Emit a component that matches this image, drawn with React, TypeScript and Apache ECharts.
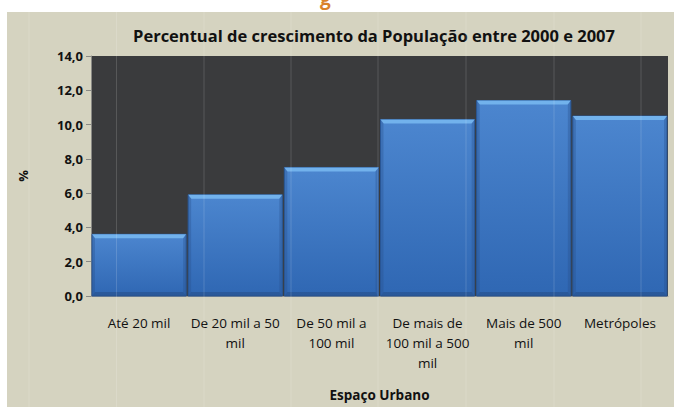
import React, { useEffect, useRef } from "react";
import * as echarts from "echarts";

const categories = [
  "Até 20 mil",
  "De 20 mil a 50\nmil",
  "De 50 mil a\n100 mil",
  "De mais de\n100 mil a 500\nmil",
  "Mais de 500\nmil",
  "Metrópoles",
];
const values = [3.6, 5.9, 7.5, 10.3, 11.4, 10.5];
const yTicks = { min: 0, max: 14, interval: 2 };
const titleText = "Percentual de crescimento da População entre 2000 e 2007";
const xName = "Espaço Urbano";
const yName = "%";

export default function App() {
  const ref = useRef<HTMLDivElement>(null);
  useEffect(() => {
    if (!ref.current) return;
    const chart = echarts.init(ref.current, null, { renderer: "svg" });
    const font = "'Open Sans', 'Noto Sans', sans-serif";
    const artifactXs = [29, 116.5, 204, 291, 378, 466, 554, 641];
    const option: any = {
      animation: false,
      backgroundColor: "#ffffff",
      textStyle: { fontFamily: font },
      title: {
        text: titleText,
        left: 369,
        textAlign: "center",
        top: 22,
        textStyle: { fontFamily: font, fontSize: 16.5, fontWeight: "bold", color: "#111" },
      },
      graphic: [
        {
          type: "rect",
          z: -10,
          silent: true,
          shape: { x: 7, y: 12, width: 667, height: 395 },
          style: { fill: "#d5d3c0" },
        },
        {
          type: "text",
          z: -5,
          left: 320,
          top: -12,
          style: { text: "g", fill: "#d9822b", font: "bold 19px 'Open Sans', sans-serif" },
        },
        ...artifactXs.map((x) => ({
          type: "line",
          z: 100,
          silent: true,
          shape: { x1: x, y1: 12, x2: x, y2: 407 },
          style: { stroke: "rgba(255,255,255,0.15)", lineWidth: 1 },
        })),
      ],
      grid: {
        left: 91,
        right: 6,
        top: 56,
        bottom: 110,
        show: true,
        backgroundColor: "#3a3b3d",
        borderWidth: 0,
      },
      xAxis: {
        type: "category",
        data: categories,
        name: xName,
        nameLocation: "middle",
        nameGap: 92,
        nameTextStyle: { fontFamily: font, fontSize: 13.5, fontWeight: "bold", color: "#111" },
        axisLine: { show: true, lineStyle: { color: "#9a9a95", width: 1 } },
        axisTick: { show: false },
        axisLabel: {
          interval: 0,
          margin: 17,
          fontFamily: font,
          fontSize: 13.5,
          color: "#111",
          lineHeight: 20,
          verticalAlign: "top",
        },
        splitLine: { show: false },
      },
      yAxis: {
        type: "value",
        min: yTicks.min,
        max: yTicks.max,
        interval: yTicks.interval,
        name: yName,
        nameLocation: "middle",
        nameGap: 62,
        nameRotate: 90,
        nameTextStyle: { fontFamily: font, fontSize: 13, fontWeight: "bold", color: "#111" },
        axisLine: { show: true, lineStyle: { color: "#8a8a86", width: 1 } },
        axisTick: { show: true, length: 5, lineStyle: { color: "#8a8a86" } },
        axisLabel: {
          margin: 8,
          fontFamily: font,
          fontSize: 13,
          fontWeight: "bold",
          color: "#111",
          formatter: (v: number) => v.toFixed(1).replace(".", ","),
        },
        splitLine: { show: false },
      },
      series: [
        {
          type: "custom",
          data: values.map((v, i) => [i, v]),
          encode: { x: 0, y: 1 },
          renderItem: (params: any, api: any) => {
            const idx = api.value(0);
            const val = api.value(1);
            const top = api.coord([idx, val]);
            const base = api.coord([idx, 0]);
            const w = api.size([1, 0])[0];
            const x0 = top[0] - w / 2 + 1;
            const x1 = top[0] + w / 2 - 1;
            const y0 = top[1];
            const y1 = base[1];
            const bev = 4;
            const side = 3;
            return {
              type: "group",
              children: [
                {
                  type: "rect",
                  shape: { x: x0, y: y0, width: x1 - x0, height: y1 - y0 },
                  style: {
                    fill: new echarts.graphic.LinearGradient(0, 0, 0, 1, [
                      { offset: 0, color: "#4c86cf" },
                      { offset: 1, color: "#2f67b3" },
                    ]),
                    stroke: "#2a5897",
                    lineWidth: 1,
                  },
                },
                {
                  type: "polygon",
                  shape: {
                    points: [
                      [x0, y0],
                      [x1, y0],
                      [x1 - side, y0 + bev],
                      [x0 + side, y0 + bev],
                    ],
                  },
                  style: { fill: "#72b2ec" },
                },
                {
                  type: "polygon",
                  shape: {
                    points: [
                      [x0, y0],
                      [x0 + side, y0 + bev],
                      [x0 + side, y1 - bev],
                      [x0, y1],
                    ],
                  },
                  style: { fill: "rgba(40,80,140,0.35)" },
                },
                {
                  type: "polygon",
                  shape: {
                    points: [
                      [x1, y0],
                      [x1 - side, y0 + bev],
                      [x1 - side, y1 - bev],
                      [x1, y1],
                    ],
                  },
                  style: { fill: "rgba(40,80,140,0.35)" },
                },
                {
                  type: "polygon",
                  shape: {
                    points: [
                      [x0, y1],
                      [x1, y1],
                      [x1 - side, y1 - bev],
                      [x0 + side, y1 - bev],
                    ],
                  },
                  style: { fill: "rgba(35,70,125,0.45)" },
                },
              ],
            };
          },
        },
      ],
    };
    chart.setOption(option);
    return () => chart.dispose();
  }, []);
  return (
    <div
      ref={ref}
      style={{ position: "absolute", left: 0, top: 0, width: 674, height: 407 }}
    />
  );
}
